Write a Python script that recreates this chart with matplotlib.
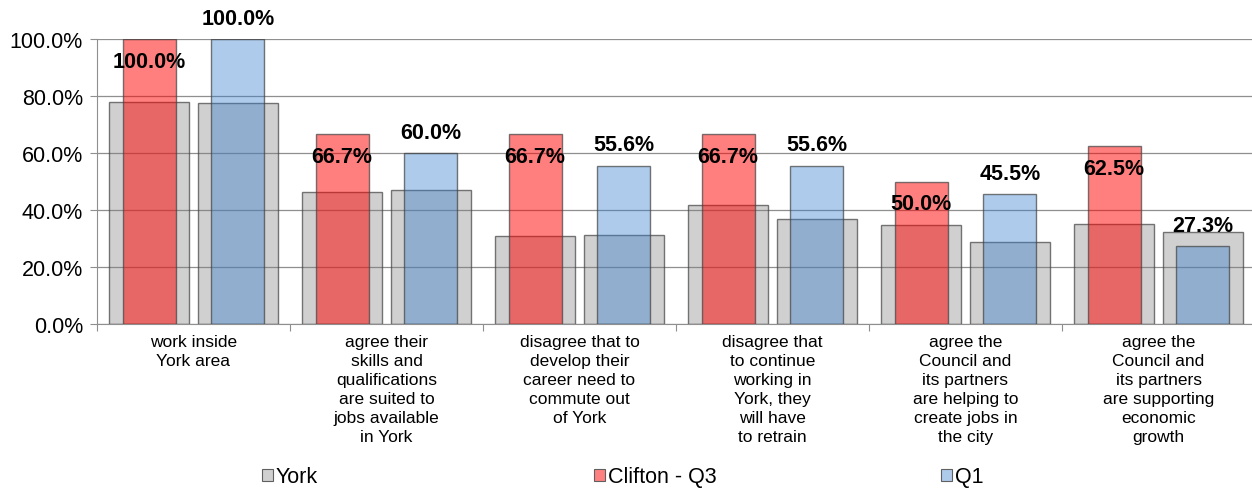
import matplotlib
matplotlib.use("Agg")
import matplotlib.pyplot as plt
from matplotlib.patches import Patch
import numpy as np

plt.rcParams['font.family'] = ['Liberation Sans', 'DejaVu Sans']

categories = [
    "work inside\nYork area",
    "agree their\nskills and\nqualifications\nare suited to\njobs available\nin York",
    "disagree that to\ndevelop their\ncareer need to\ncommute out\nof York",
    "disagree that\nto continue\nworking in\nYork, they\nwill have\nto retrain",
    "agree the\nCouncil and\nits partners\nare helping to\ncreate jobs in\nthe city",
    "agree the\nCouncil and\nits partners\nare supporting\neconomic\ngrowth",
]
york_q3 = [78.0, 46.3, 30.9, 41.8, 34.8, 35.0]
york_q1 = [77.5, 46.9, 31.2, 36.8, 28.7, 32.2]
clifton_q3 = [100.0, 66.7, 66.7, 66.7, 50.0, 62.5]
clifton_q1 = [100.0, 60.0, 55.6, 55.6, 45.5, 27.3]
yticks = [0, 20, 40, 60, 80, 100]

W, H = 1252, 489
fig = plt.figure(figsize=(W / 100, H / 100), dpi=100)
ax = fig.add_axes([97 / W, 1 - 325 / H, (1255 - 97) / W, (325 - 40) / H])

x = np.arange(len(categories))
off = 0.23
gw, cw = 0.415, 0.275
gray = (0.5, 0.5, 0.5, 0.37)
edge = (0.25, 0.25, 0.25, 0.7)
ax.bar(x - off, york_q3, gw, color=gray, edgecolor=edge, linewidth=1.0, zorder=2)
ax.bar(x + off, york_q1, gw, color=gray, edgecolor=edge, linewidth=1.0, zorder=2)
ax.bar(x - off, clifton_q3, cw, color=(1.0, 0.0, 0.0, 0.5), edgecolor=edge, linewidth=1.0, zorder=3)
ax.bar(x + off, clifton_q1, cw, color=(53 / 255, 125 / 255, 205 / 255, 0.4), edgecolor=edge, linewidth=1.0, zorder=3)

for xi, v in zip(x - off, clifton_q3):
    ax.annotate(f"{v:.1f}%", (xi, v), xytext=(0, -16), textcoords="offset points",
                ha="center", va="center", fontsize=15.5, fontweight="bold", zorder=5)
for xi, v in zip(x + off, clifton_q1):
    ax.annotate(f"{v:.1f}%", (xi, v), xytext=(0, 15), textcoords="offset points",
                ha="center", va="center", fontsize=15.5, fontweight="bold", zorder=5)

ax.set_xlim(-0.5, len(categories) - 0.5)
ax.set_ylim(0, 100)
ax.set_yticks(yticks)
ax.set_yticklabels([f"{t:.1f}%" for t in yticks], fontsize=15.5)
ax.yaxis.grid(True, color="#8f8f8f", linewidth=0.9, zorder=0)
ax.set_axisbelow(True)

ax.set_xticks(np.arange(-0.5, len(categories) + 0.5, 1.0))
ax.set_xticklabels([])
ax.set_xticks(x, minor=True)
ax.set_xticklabels(categories, minor=True, fontsize=12.5, linespacing=1.33, va="top")
ax.tick_params(axis="x", which="minor", length=0, pad=7)
ax.tick_params(axis="x", which="major", length=5, color="#8f8f8f", direction="out")
ax.tick_params(axis="y", length=5, color="#8f8f8f", pad=5)

for s in ["top", "right"]:
    ax.spines[s].set_visible(False)
for s in ["left", "bottom"]:
    ax.spines[s].set_color("#8f8f8f")

legend_items = [("York", "#d0d0d0", 262), ("Clifton - Q3", "#ff8080", 594), ("Q1", "#aecbeb", 941)]
for name, col, px in legend_items:
    h = Patch(facecolor=col, edgecolor="#606060", linewidth=0.8)
    fig.legend([h], [name], loc="center left", bbox_to_anchor=(px / W, 1 - 478 / H),
               frameon=False, fontsize=15.5, handlelength=0.5, handleheight=0.5,
               handletextpad=0.15, borderpad=0, borderaxespad=0)

fig.savefig("out.png", dpi=100)
